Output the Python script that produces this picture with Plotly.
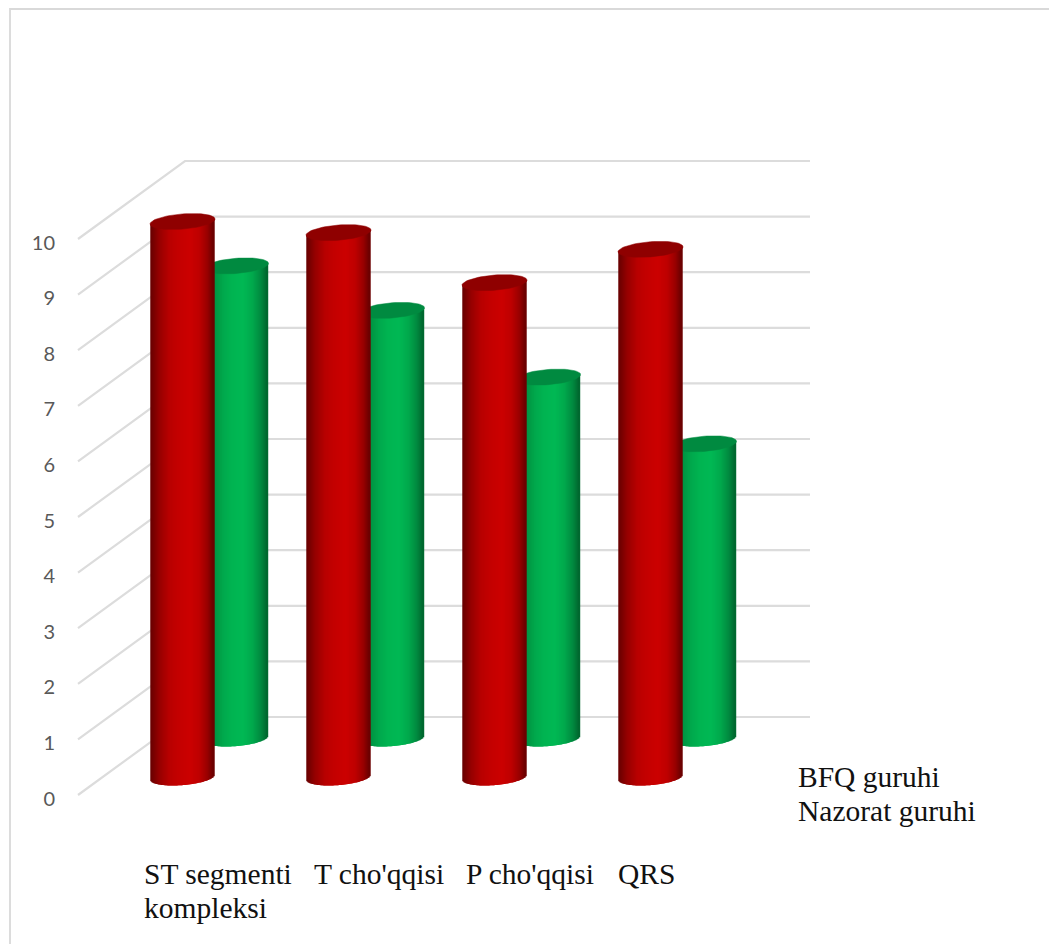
import numpy as np
import plotly.graph_objects as go

# Chart data
categories = ["ST segmenti<br>kompleksi", "T cho'qqisi", "P cho'qqisi", "QRS"]
series_names = ["BFQ guruhi", "Nazorat guruhi"]
bfq_values = [10.0, 9.8, 8.9, 9.5]
nazorat_values = [8.5, 7.7, 6.5, 5.3]
y_ticks = list(range(0, 11))

# Canvas and axis scales
W, H = 1049, 944
LEFT = 60
PX_PER_CAT = 156.0
PX_PER_UNIT = 55.6
X0_PX = 182.5          # pixel column of the first category
Y0_PX = 798.5          # pixel row of the 0 tick label
x_range = [(LEFT - X0_PX) / PX_PER_CAT, (W - X0_PX) / PX_PER_CAT]
y_range = [(Y0_PX - H) / PX_PER_UNIT, Y0_PX / PX_PER_UNIT]

# Oblique projection of the 3-D box
FLOOR_LIFT = (Y0_PX - 795) / PX_PER_UNIT
WALL_LEFT = (185 - X0_PX) / PX_PER_CAT
WALL_RIGHT = (810 - X0_PX) / PX_PER_CAT
FRONT_LEFT = (78 - X0_PX) / PX_PER_CAT
WALL_RISE = (795 - 717) / PX_PER_UNIT

# Cylinder geometry
RADIUS = 32.5 / PX_PER_CAT
SLICE_REACH = 31.6 / PX_PER_CAT
CAP_B = 7.6 / PX_PER_UNIT
CAP_TILT = 2.5 / PX_PER_UNIT
N_SLICES = 66

# Shading across a cylinder, from its left edge to its right edge
shade_u = [-1.0, -0.72, -0.4, -0.1, 0.25, 0.55, 0.8, 1.0]
red_shade = [(0x66, 0, 0), (0x96, 0, 0), (0xB8, 0, 0), (0xC4, 0, 0), (0xCB, 0, 0), (0xBE, 0, 0), (0x9A, 0, 0), (0x68, 0, 0)]
green_shade = [(0, 0x69, 0x30), (0, 0x8E, 0x40), (0, 0xA8, 0x4C), (0, 0xB4, 0x52), (0, 0xB8, 0x54), (0, 0xA8, 0x4C), (0, 0x8A, 0x40), (0, 0x66, 0x2E)]

fig = go.Figure()


def add_line(xs, ys, color, width):
    fig.add_trace(go.Scatter(x=xs, y=ys, mode="lines", line=dict(color=color, width=width),
                             hoverinfo="skip", showlegend=False))


# Back wall and side wall gridlines
grid_x, grid_y = [], []
for v in y_ticks:
    base_v = v + FLOOR_LIFT
    grid_x += [FRONT_LEFT, WALL_LEFT, WALL_RIGHT, None]
    grid_y += [base_v, base_v + WALL_RISE, base_v + WALL_RISE, None]
add_line(grid_x, grid_y, "#dcdcdc", 2.2)


def add_cylinders(values, x_shift, base, shade, cap_color):
    u = (np.arange(N_SLICES) + 0.5) / N_SLICES * 2 - 1
    channels = [np.interp(u, shade_u, [c[k] for c in shade]) for k in range(3)]
    for i, ui in enumerate(u):
        color = f"rgb({channels[0][i]:.0f},{channels[1][i]:.0f},{channels[2][i]:.0f})"
        xs, ys = [], []
        for c, value in enumerate(values):
            x = c + x_shift + ui * SLICE_REACH
            bottom = base + CAP_TILT * ui - CAP_B * np.sqrt(1 - ui ** 2)
            top = base + value + CAP_TILT * ui
            xs += [x, x, None]
            ys += [bottom, top, None]
        add_line(xs, ys, color, 2.2)
    t = np.linspace(0, 2 * np.pi, 73)
    for c, value in enumerate(values):
        fig.add_trace(go.Scatter(
            x=c + x_shift + RADIUS * np.cos(t),
            y=base + value + CAP_TILT * np.cos(t) + CAP_B * np.sin(t),
            mode="lines", fill="toself", fillcolor=cap_color,
            line=dict(color=cap_color, width=0.5), hoverinfo="skip", showlegend=False))


# The rear series is drawn first so the front series overlaps it
add_cylinders(nazorat_values, 53.5 / PX_PER_CAT, (Y0_PX - 738.5) / PX_PER_UNIT, green_shade, "#008a40")
add_cylinders(bfq_values, 0.0, (Y0_PX - 777.5) / PX_PER_UNIT, red_shade, "#8f0000")


def paper_x(px):
    return (px - LEFT) / (W - LEFT)


def paper_y(px):
    return 1 - px / H


annotations = []


def add_text(text, x_px, y_px):
    annotations.append(dict(text=text, xref="paper", yref="paper", x=paper_x(x_px), y=paper_y(y_px),
                            xanchor="left", yanchor="middle", showarrow=False,
                            font=dict(family="Liberation Serif", size=29.5, color="#111111")))


# Category names sit under the floor, left aligned, one row per line of text
cat_x_px = [141.5, 311.5, 463.5, 615.5]
for name, px in zip(categories, cat_x_px):
    for row, line in enumerate(name.split("<br>")):
        add_text(line, px, 874 + row * 33.5)

# Series names without keys
for row, name in enumerate(series_names):
    add_text(name, 796, 777 + row * 34)

fig.update_layout(
    width=W, height=H, margin=dict(l=LEFT, r=0, t=0, b=0),
    paper_bgcolor="white", plot_bgcolor="white", showlegend=False,
    annotations=annotations,
    xaxis=dict(range=x_range, visible=False, fixedrange=True),
    yaxis=dict(range=y_range, tickvals=y_ticks, ticktext=[str(v) for v in y_ticks],
               showgrid=False, zeroline=False, showline=False, ticks="", ticklabelstandoff=4,
               tickfont=dict(family="Lato", size=20, color="#595959"), fixedrange=True),
    shapes=[dict(type="path", xref="paper", yref="paper",
                 path=f"M {paper_x(10)} {paper_y(H)} L {paper_x(10)} {paper_y(9)} L {paper_x(W)} {paper_y(9)}",
                 line=dict(color="#d9d9d9", width=1.8))],
)

fig.write_html("out.html", config=dict(displayModeBar=False))
